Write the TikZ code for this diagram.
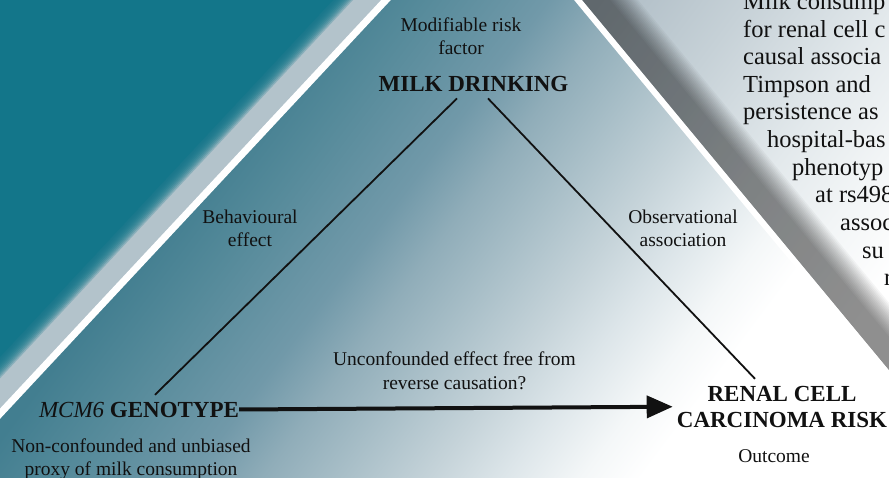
\documentclass[tikz,border=0pt]{standalone}
\usepackage{fontspec}
\setmainfont{Liberation Serif}
\usetikzlibrary{arrows.meta,calc}
\definecolor{tA}{HTML}{427E90}
\definecolor{tB}{HTML}{558A9A}
\definecolor{tC}{HTML}{7199A9}
\definecolor{tD}{HTML}{90ADB9}
\definecolor{tE}{HTML}{A9BFC8}
\definecolor{tF}{HTML}{C5D3D9}
\definecolor{tG}{HTML}{DCE5E9}
\definecolor{tH}{HTML}{F4F7F8}
\definecolor{pA}{HTML}{AEBCC5}
\definecolor{pB}{HTML}{C6D1D7}
\definecolor{pC}{HTML}{E3E9EC}
\definecolor{pD}{HTML}{F2F5F6}
\definecolor{tealbg}{HTML}{13768A}
\definecolor{bandc}{HTML}{B3C3CB}
\definecolor{ink}{HTML}{111111}
\pgfdeclarehorizontalshading{triShade}{100bp}{color(0bp)=(tA); color(42.6bp)=(tA); color(44.9bp)=(tB); color(48.1bp)=(tC); color(49.9bp)=(tD); color(51.9bp)=(tE); color(54.1bp)=(tF); color(55.9bp)=(tG); color(57.9bp)=(tH); color(59.4bp)=(white); color(100bp)=(white)}
\pgfdeclarehorizontalshading{pageShade}{100bp}{color(0bp)=(pA); color(49.4bp)=(pA); color(53.1bp)=(pB); color(56.9bp)=(pC); color(59.4bp)=(pD); color(61.9bp)=(white); color(100bp)=(white)}
\tikzset{
  bigfont/.style={font=\fontsize{23}{26}\selectfont\bfseries, text=ink, inner sep=0pt},
  lab/.style={font=\fontsize{19.5}{23.5}\selectfont, text=ink, inner sep=0pt, align=center},
  sidetext/.style={font=\fontsize{24.5}{27.6}\selectfont, text=ink, inner sep=0pt, anchor=base west},
  conn/.style={draw=ink, line width=1.8pt},
  causal/.style={draw=ink, line width=4pt, -{Triangle[length=26pt,width=22pt]}},
}
\begin{document}
\begin{tikzpicture}[x=1pt,y=-1pt]
\useasboundingbox (0,0) rectangle (889,478);
\clip (0,0) rectangle (889,478);
% page background
\shade[shading=pageShade, shading angle=-36.87] (-355,-561) rectangle (1245,1039);
% shadow of the triangle on the page
\foreach \i in {0,...,14}{
  \pgfmathsetmacro{\hb}{32+2*\i}
  \fill[black, opacity=0.0335] (565.4,-20) -- (561.4+\hb,-20) -- (992.5+\hb,500) -- (996.5,500) -- cycle;
}
% triangle
\begin{scope}
  \clip (404.66,-20) -- (561.4,-20) -- (992.5,500) -- (-80.5,500) -- cycle;
  \shade[shading=triShade, shading angle=-36.87] (-355,-561) rectangle (1245,1039);
\end{scope}
% left region: light band and teal
\fill[bandc] (404.66,-20) -- (-80.5,500) -- (-300,500) -- (-300,-20) -- cycle;
\foreach \i in {0,...,9}{
  \pgfmathsetmacro{\h}{-33-2*\i}
  \fill[tealbg, opacity=0.25] (404.66+\h,-20) -- (-80.5+\h,500) -- (-300,500) -- (-300,-20) -- cycle;
}
\fill[tealbg] (351.66,-20) -- (-133.5,500) -- (-300,500) -- (-300,-20) -- cycle;
% white borders
\draw[white, line width=7pt] (404.66,-20) -- (-80.5,500);
\draw[white, line width=6pt] (561.4,-20) -- (992.5,500);
% side text
\node[sidetext] (s1) at (743,10) {Milk consump};
\node[sidetext] (s2) at (743,37.5) {for renal cell c};
\node[sidetext] (s3) at (743,65) {causal associa};
\node[sidetext] (s4) at (743,93) {Timpson and};
\node[sidetext] (s5) at (743,120) {persistence as};
\node[sidetext] (s6) at (767,148) {hospital-bas};
\node[sidetext] (s7) at (792,176) {phenotyp};
\node[sidetext] (s8) at (815,203) {at rs498};
\node[sidetext] (s9) at (840,231) {assoc};
\node[sidetext] (s10) at (862,259) {su};
\node[sidetext] (s11) at (884,286) {r};
% diagram nodes
\node[bigfont, anchor=base] (milk) at (473.5,92) {MILK DRINKING};
\node[lab, anchor=north] (modif) at (461,17.4) {Modifiable risk\\factor};
\node[bigfont, anchor=base] (geno) at (139,417) {{\mdseries\itshape MCM6} GENOTYPE};
\node[lab, anchor=north] (proxy) at (131,438.4) {Non-confounded and unbiased\\proxy of milk consumption};
\node[bigfont, align=center, anchor=north] (renal) at (782,385.8) {RENAL CELL\\CARCINOMA RISK};
\node[lab, anchor=base] (outcome) at (774,462) {Outcome};
\node[lab, anchor=north] (behav) at (250,209.4) {Behavioural\\effect};
\node[lab, anchor=north] (obs) at (683,209.4) {Observational\\association};
\node[lab, anchor=north] (uncon) at (454.5,351.7) {Unconfounded effect free from\\reverse causation?};
% connectors
\draw[conn] ([shift={(-16.5,6)}]milk.south) -- ([shift={(16,-6.8)}]geno.north);
\draw[conn] ([shift={(14.5,6)}]milk.south) -- ([shift={(-27,-7)}]renal.north);
\draw[causal] (geno.east) -- ([xshift=-4]renal.west);
\end{tikzpicture}
\end{document}
